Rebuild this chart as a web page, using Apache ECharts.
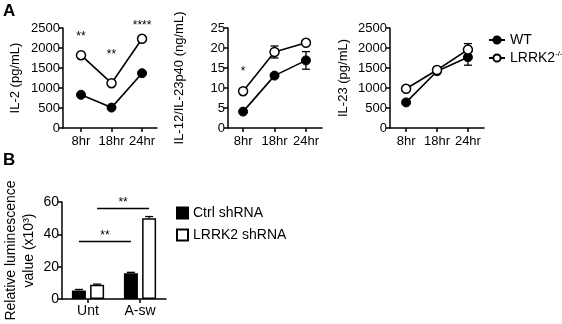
<!DOCTYPE html>
<html><head><meta charset="utf-8">
<script src="https://cdn.jsdelivr.net/npm/echarts@6/dist/echarts.min.js"></script>
<style>html,body{margin:0;padding:0;background:#fff}#c{width:562px;height:324px}</style>
</head><body><div id="c"></div>
<script>
// ---- data ----
const timeLabels = ['8hr', '18hr', '24hr'];
const il2WT = [830, 510, 1370];
const il2KO = [1820, 1120, 2230];
const il2Stars = ['**', '**', '****'];
const il2StarY = [2280, 1840, 2560];

const il12WT = [4.1, 13.1, 16.9];
const il12WTErr = [0.3, 0.5, 2.2];
const il12KO = [9.2, 19.0, 21.3];
const il12KOErr = [0.3, 1.5, 0.6];
const il12Stars = ['*', '', ''];
const il12StarY = [14.0, 0, 0];

const il23WT = [640, 1420, 1770];
const il23WTErr = [30, 60, 200];
const il23KO = [980, 1450, 1960];
const il23KOErr = [30, 70, 150];

const bCats = ['Unt', 'A-sw'];
const ctrlVals = [5.3, 16.0];
const ctrlErr = [0.6, 0.5];
const kdVals = [8.8, 50.0];
const kdErr = [0.4, 1.0];
const sigLevels = [35.6, 56];     // heights of the significance bars
const sigText = ['**', '**'];

const yTicksIL = [0, 500, 1000, 1500, 2000, 2500];
const yTicks12 = [0, 5, 10, 15, 20, 25];
const yTicksB = [0, 20, 40, 60];

// ---- helpers ----
const FONT = 'Liberation Sans, Arial, sans-serif';
const AX = {onZero: false, lineStyle: {color: '#000', width: 1.5}};
const TICK = {show: true, length: 4, lineStyle: {color: '#000', width: 1.5}};

function xAxisTime(gi, min, max) {
  return {
    type: 'value', gridIndex: gi, min: min, max: max,
    axisLine: AX, splitLine: {show: false},
    axisTick: Object.assign({customValues: [0, 1, 2]}, TICK),
    axisLabel: {customValues: [0, 1, 2], formatter: v => timeLabels[Math.round(v)],
      color: '#000', fontSize: 13, fontFamily: FONT, margin: 7}
  };
}
function yAxisVal(gi, ticks, name, gap) {
  return {
    type: 'value', gridIndex: gi, min: ticks[0], max: ticks[ticks.length - 1],
    interval: ticks[1] - ticks[0],
    name: name, nameLocation: 'middle', nameGap: gap,
    nameTextStyle: {color: '#000', fontSize: 13, fontFamily: FONT},
    axisLine: {show: true, onZero: false, lineStyle: {color: '#000', width: 1.5}},
    axisTick: TICK, splitLine: {show: false},
    axisLabel: {color: '#000', fontSize: 13, fontFamily: FONT, margin: 3, formatter: v => String(v)}
  };
}
function pts(arr) { return arr.map((v, i) => [i, v]); }
function errData(vals, errs) { return vals.map((v, i) => [i, v - errs[i], v + errs[i]]); }
function errSeries(ai, data, cap) {
  return {
    type: 'custom', xAxisIndex: ai, yAxisIndex: ai, z: 1, silent: true,
    data: data,
    renderItem: function (params, api) {
      const lo = api.coord([api.value(0), api.value(1)]);
      const hi = api.coord([api.value(0), api.value(2)]);
      const st = {stroke: '#000', lineWidth: 1.3};
      return {type: 'group', children: [
        {type: 'line', shape: {x1: lo[0], y1: lo[1], x2: hi[0], y2: hi[1]}, style: st},
        {type: 'line', shape: {x1: lo[0] - cap, y1: lo[1], x2: lo[0] + cap, y2: lo[1]}, style: st},
        {type: 'line', shape: {x1: hi[0] - cap, y1: hi[1], x2: hi[0] + cap, y2: hi[1]}, style: st}
      ]};
    }
  };
}
function lineSeries(ai, name, vals, open) {
  return {
    type: 'line', name: name, xAxisIndex: ai, yAxisIndex: ai, data: pts(vals), z: 3,
    symbol: 'circle', symbolSize: 9,
    lineStyle: {color: '#000', width: 1.6},
    itemStyle: open ? {color: '#fff', borderColor: '#000', borderWidth: 1.5}
                    : {color: '#000', borderColor: '#000', borderWidth: 1},
    emphasis: {disabled: true}, animation: false
  };
}
// text annotations placed through the axes (custom series)
function textSeries(ai, data, fontSize) {
  return {
    type: 'custom', xAxisIndex: ai, yAxisIndex: ai, silent: true, clip: false, z: 6,
    data: data,
    renderItem: function (params, api) {
      const p = api.coord([api.value(0), api.value(1)]);
      return {type: 'text', x: p[0], y: p[1],
        style: {text: data[params.dataIndex][2], fill: '#000', align: 'center', verticalAlign: 'middle',
          font: fontSize + 'px ' + FONT}};
    }
  };
}
function starData(labels, ys) {
  return labels.map((t, i) => [i, ys[i], t]).filter(d => d[2]);
}

// B helper axis (value) mapping the two categories to 0..2
const catCenters = bCats.map((c, i) => i + 0.5);
const barOffset = 0.175;

const option = {
  animation: false,
  backgroundColor: '#fff',
  textStyle: {fontFamily: FONT},
  graphic: [
    {type: 'text', left: 3, top: 3, style: {text: 'A', font: 'bold 17px ' + FONT, fill: '#000'}},
    {type: 'text', left: 3, top: 152, style: {text: 'B', font: 'bold 17px ' + FONT, fill: '#000'}}
  ],
  grid: [
    {left: 63, top: 28, width: 94, height: 100},
    {left: 228, top: 28, width: 94, height: 100},
    {left: 390, top: 28, width: 94, height: 100},
    {left: 62, top: 202, width: 104, height: 97}
  ],
  legend: [
    {data: ['WT', 'LRRK2-/-'], orient: 'vertical', left: 483, top: 28, itemGap: 3,
      itemWidth: 16, itemHeight: 9,
      formatter: n => n === 'WT' ? 'WT' : '{a|LRRK2}{s|-/-}',
      textStyle: {color: '#000', fontSize: 14, fontFamily: FONT,
        rich: {a: {fontSize: 14, fontFamily: FONT, color: '#000'},
               s: {fontSize: 8, fontFamily: FONT, color: '#000', verticalAlign: 'top', padding: [0, 0, 8, 0]}}}},
    {data: ['Ctrl shRNA', 'LRRK2 shRNA'], orient: 'vertical', left: 171, top: 201, itemGap: 8,
      itemWidth: 11, itemHeight: 11, icon: 'rect',
      textStyle: {color: '#000', fontSize: 14, fontFamily: FONT}}
  ],
  xAxis: [
    xAxisTime(0, -0.59, 2.49),
    xAxisTime(1, -0.48, 2.51),
    xAxisTime(2, -0.52, 2.52),
    {type: 'category', gridIndex: 3, data: bCats,
      axisLine: AX, axisTick: {show: true, length: 4, alignWithLabel: true, lineStyle: {color: '#000', width: 1.5}},
      axisLabel: {color: '#000', fontSize: 14, fontFamily: FONT, margin: 5}},
    {type: 'value', gridIndex: 3, min: 0, max: 2, show: false}
  ],
  yAxis: [
    yAxisVal(0, yTicksIL, 'IL-2 (pg/mL)', 41),
    yAxisVal(1, yTicks12, 'IL-12/IL-23p40 (ng/mL)', 42),
    yAxisVal(2, yTicksIL, 'IL-23 (pg/mL)', 40),
    Object.assign(yAxisVal(3, yTicksB, 'Relative luminescence\nvalue (x10³)', 24), {
      axisLabel: {color: '#000', fontSize: 14, fontFamily: FONT, margin: 3},
      nameTextStyle: {color: '#000', fontSize: 14, fontFamily: FONT, lineHeight: 18}}),
    {type: 'value', gridIndex: 3, min: 0, max: 60, show: false}
  ],
  series: [
    lineSeries(0, 'WT', il2WT, false),
    lineSeries(0, 'LRRK2-/-', il2KO, true),
    textSeries(0, starData(il2Stars, il2StarY), 12),

    errSeries(1, errData(il12WT, il12WTErr), 4),
    errSeries(1, errData(il12KO, il12KOErr), 4),
    lineSeries(1, 'WT', il12WT, false),
    lineSeries(1, 'LRRK2-/-', il12KO, true),
    textSeries(1, starData(il12Stars, il12StarY), 12),

    errSeries(2, errData(il23WT, il23WTErr), 4),
    errSeries(2, errData(il23KO, il23KOErr), 4),
    lineSeries(2, 'WT', il23WT, false),
    lineSeries(2, 'LRRK2-/-', il23KO, true),

    {type: 'bar', name: 'Ctrl shRNA', xAxisIndex: 3, yAxisIndex: 3, data: ctrlVals,
      barWidth: 14, barGap: '30%', itemStyle: {color: '#000', borderColor: '#000', borderWidth: 1.5}},
    {type: 'bar', name: 'LRRK2 shRNA', xAxisIndex: 3, yAxisIndex: 3, data: kdVals,
      barWidth: 14, itemStyle: {color: '#fff', borderColor: '#000', borderWidth: 1.5}},
    {type: 'custom', xAxisIndex: 4, yAxisIndex: 4, silent: true, z: 5,
      data: ctrlVals.map((v, i) => [catCenters[i] - barOffset, v, v + ctrlErr[i]])
        .concat(kdVals.map((v, i) => [catCenters[i] + barOffset, v, v + kdErr[i]])),
      renderItem: function (params, api) {
        const lo = api.coord([api.value(0), api.value(1)]);
        const hi = api.coord([api.value(0), api.value(2)]);
        const st = {stroke: '#000', lineWidth: 1.3};
        return {type: 'group', children: [
          {type: 'line', shape: {x1: lo[0], y1: lo[1], x2: hi[0], y2: hi[1]}, style: st},
          {type: 'line', shape: {x1: hi[0] - 4, y1: hi[1], x2: hi[0] + 4, y2: hi[1]}, style: st}
        ]};
      }},
    // significance bars
    {type: 'line', xAxisIndex: 4, yAxisIndex: 4, symbol: 'none', silent: true,
      lineStyle: {color: '#000', width: 1.5},
      data: [[catCenters[0] - barOffset, sigLevels[0]], [catCenters[1] - barOffset, sigLevels[0]]]},
    {type: 'line', xAxisIndex: 4, yAxisIndex: 4, symbol: 'none', silent: true,
      lineStyle: {color: '#000', width: 1.5},
      data: [[catCenters[0] + barOffset, sigLevels[1]], [catCenters[1] + barOffset, sigLevels[1]]]},
    textSeries(4, sigLevels.map((y, i) => [(catCenters[0] + catCenters[1]) / 2 + (i ? barOffset : -barOffset), y + 3.8, sigText[i]]), 12)
  ]
};
const chart = echarts.init(document.getElementById('c'), null, {renderer: 'canvas'});
chart.setOption(option);
</script></body></html>
